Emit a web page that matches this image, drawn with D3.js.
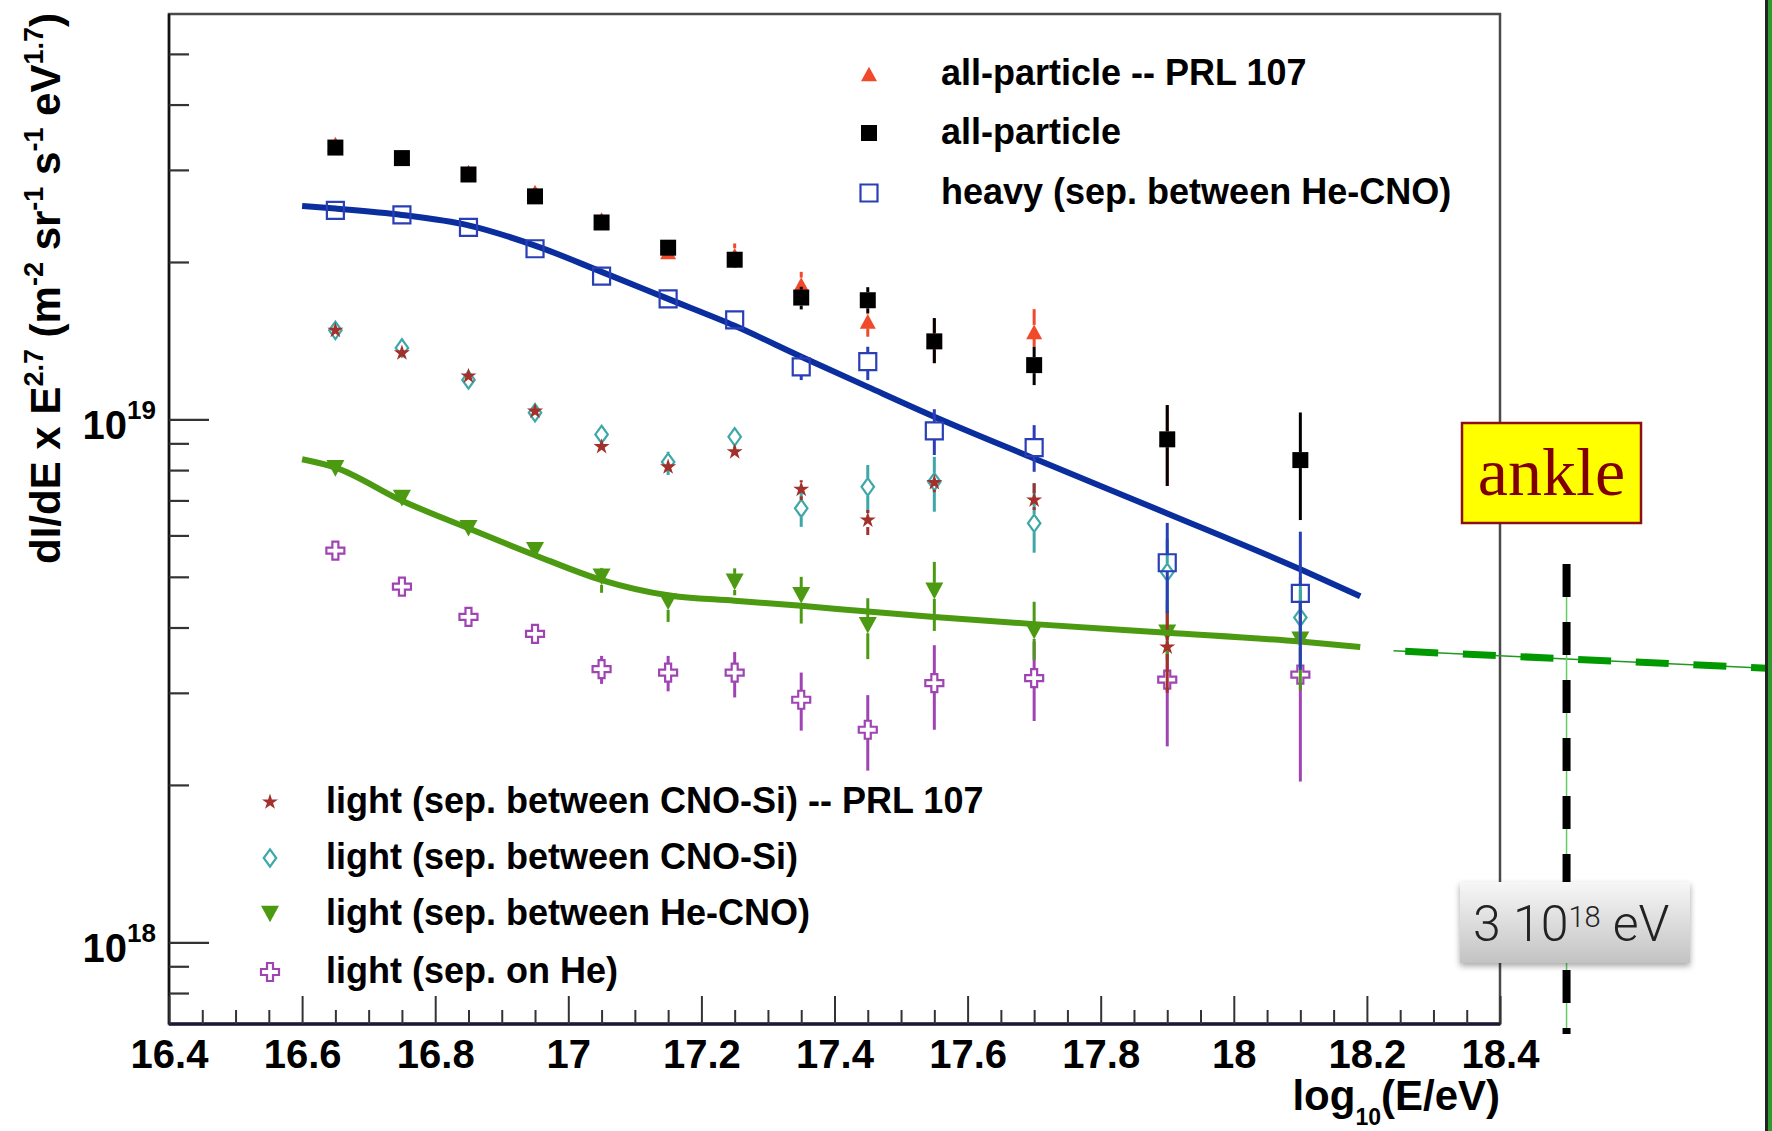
<!DOCTYPE html>
<html><head><meta charset="utf-8">
<script src="https://cdn.jsdelivr.net/npm/d3@7"></script>
<style>
html,body{margin:0;padding:0;background:#fff;}
svg{display:block;}
</style></head><body>
<svg id="chart" width="1772" height="1131"></svg>
<script>
// ---------------- DATA ----------------
const energies = [16.65, 16.75, 16.85, 16.95, 17.05, 17.15, 17.25, 17.35, 17.45, 17.55, 17.7, 17.9, 18.1];

const allPRL   = [3.36e19, 3.17e19, 2.97e19, 2.72e19, 2.41e19, 2.09e19, 2.06e19, 1.81e19, 1.54e19, 1.42e19, 1.47e19, 9.2e18, null];
const allPRLLo = [3.31e19, 3.12e19, 2.93e19, 2.68e19, 2.37e19, 2.05e19, 1.95e19, 1.691e19, 1.439e19, 1.281e19, 1.377e19, 7.46e18, null];
const allPRLHi = [3.41e19, 3.22e19, 3.01e19, 2.76e19, 2.45e19, 2.13e19, 2.17e19, 1.915e19, 1.597e19, 1.562e19, 1.625e19, 1.065e19, null];

const allPart   = [3.31e19, 3.16e19, 2.94e19, 2.67e19, 2.38e19, 2.13e19, 2.02e19, 1.71e19, 1.69e19, 1.41e19, 1.27e19, 9.16e18, 8.36e18];
const allPartLo = [3.27e19, 3.12e19, 2.90e19, 2.63e19, 2.34e19, 2.09e19, 1.97e19, 1.623e19, 1.597e19, 1.281e19, 1.163e19, 7.46e18, 6.42e18];
const allPartHi = [3.35e19, 3.20e19, 2.98e19, 2.71e19, 2.42e19, 2.17e19, 2.07e19, 1.793e19, 1.79e19, 1.562e19, 1.377e19, 1.065e19, 1.031e19];

const heavy   = [2.51e19, 2.46e19, 2.33e19, 2.12e19, 1.88e19, 1.70e19, 1.55e19, 1.26e19, 1.29e19, 9.51e18, 8.83e18, 5.32e18, 4.65e18];
const heavyLo = [2.48e19, 2.43e19, 2.30e19, 2.09e19, 1.85e19, 1.67e19, 1.52e19, 1.189e19, 1.189e19, 8.55e18, 7.94e18, 4.26e18, 3.32e18];
const heavyHi = [2.54e19, 2.49e19, 2.36e19, 2.15e19, 1.91e19, 1.73e19, 1.58e19, 1.327e19, 1.377e19, 1.046e19, 9.75e18, 6.34e18, 6.10e18];

const lightCNOSiPRL   = [1.48e19, 1.34e19, 1.21e19, 1.037e19, 8.87e18, 8.11e18, 8.67e18, 7.35e18, 6.42e18, 7.57e18, 7.01e18, 3.67e18, null];
const lightCNOSiPRLLo = [1.46e19, 1.32e19, 1.19e19, 1.02e19, 8.7e18, 7.95e18, 8.45e18, 7.01e18, 6.01e18, 7.26e18, 6.71e18, 3.0e18, null];
const lightCNOSiPRLHi = [1.50e19, 1.36e19, 1.23e19, 1.05e19, 9.05e18, 8.3e18, 8.9e18, 7.65e18, 6.71e18, 7.82e18, 7.55e18, 4.3e18, null];

const lightCNOSi   = [1.48e19, 1.37e19, 1.19e19, 1.03e19, 9.36e18, 8.29e18, 9.26e18, 6.76e18, 7.43e18, 7.6e18, 6.33e18, 5.1e18, 4.18e18];
const lightCNOSiLo = [1.46e19, 1.35e19, 1.17e19, 1.01e19, 9.1e18, 7.83e18, 8.62e18, 6.23e18, 6.62e18, 6.66e18, 5.56e18, 4.3e18, 3.4e18];
const lightCNOSiHi = [1.50e19, 1.39e19, 1.21e19, 1.05e19, 9.6e18, 8.67e18, 9.62e18, 7.32e18, 8.18e18, 8.48e18, 7.55e18, 5.9e18, 5.0e18];

const lightHeCNO   = [8.06e18, 7.07e18, 6.19e18, 5.62e18, 5.0e18, 4.48e18, 4.89e18, 4.61e18, 4.04e18, 4.70e18, 3.94e18, 3.91e18, 3.79e18];
const lightHeCNOLo = [7.95e18, 6.97e18, 6.10e18, 5.53e18, 4.66e18, 4.10e18, 4.61e18, 4.07e18, 3.48e18, 3.94e18, 3.47e18, 3.47e18, 3.04e18];
const lightHeCNOHi = [8.17e18, 7.17e18, 6.28e18, 5.71e18, 5.20e18, 4.66e18, 5.19e18, 5.0e18, 4.55e18, 5.34e18, 4.48e18, 4.5e18, 4.72e18];

const lightHe   = [5.61e18, 4.79e18, 4.19e18, 3.89e18, 3.33e18, 3.28e18, 3.28e18, 2.91e18, 2.55e18, 3.13e18, 3.20e18, 3.18e18, 3.25e18];
const lightHeLo = [5.53e18, 4.72e18, 4.12e18, 3.80e18, 3.12e18, 3.02e18, 2.94e18, 2.54e18, 2.13e18, 2.55e18, 2.65e18, 2.37e18, 2.03e18];
const lightHeHi = [5.69e18, 4.86e18, 4.26e18, 3.98e18, 3.53e18, 3.53e18, 3.59e18, 3.28e18, 2.97e18, 3.70e18, 3.76e18, 4.01e18, 4.51e18];

// fitted curves
const heavyFitE = [16.6, 16.65, 16.75, 16.85, 16.95, 17.05, 17.15, 17.25, 17.35, 17.45, 17.55, 17.7, 17.9, 18.1, 18.19];
const heavyFitV = [2.56e19, 2.53e19, 2.46e19, 2.35e19, 2.15e19, 1.915e19, 1.70e19, 1.51e19, 1.318e19, 1.154e19, 1.012e19, 8.42e18, 6.61e18, 5.17e18, 4.59e18];
const lightFitE = [16.6, 16.65, 16.75, 16.85, 16.95, 17.05, 17.15, 17.25, 17.35, 17.45, 17.55, 17.7, 17.9, 18.1, 18.19];
const lightFitV = [8.39e18, 8.09e18, 6.99e18, 6.19e18, 5.50e18, 4.93e18, 4.61e18, 4.50e18, 4.40e18, 4.29e18, 4.19e18, 4.06e18, 3.91e18, 3.76e18, 3.67e18];

// annotation overlay: extrapolated light line and ankle marker
const extE = [18.24, 18.81];
const extV = [3.61e18, 3.34e18];
const ankleE = 18.5;
const ankleV = [5.29e18, 6.68e17];

// axes
const xDomain = [16.4, 18.4];
const yDomain = [6.98e17, 5.96e19];
const xTicks = [16.4, 16.6, 16.8, 17, 17.2, 17.4, 17.6, 17.8, 18, 18.2, 18.4];
const xTickLabels = ["16.4", "16.6", "16.8", "17", "17.2", "17.4", "17.6", "17.8", "18", "18.2", "18.4"];
const yMajorTicks = [1e18, 1e19];
const yMajorExp = ["18", "19"];
const yMinorTicks = [8e17, 9e17, 2e18, 3e18, 4e18, 5e18, 6e18, 7e18, 8e18, 9e18, 2e19, 3e19, 4e19, 5e19];

const legendTop = ["all-particle -- PRL 107", "all-particle", "heavy (sep. between He-CNO)"];
const legendBottom = ["light (sep. between CNO-Si) -- PRL 107", "light (sep. between CNO-Si)", "light (sep. between He-CNO)", "light (sep. on He)"];

// ---------------- LAYOUT ----------------
const svg = d3.select("#chart");
const F = {left: 169, right: 1500, top: 14, bottom: 1024};
const x = d3.scaleLinear().domain(xDomain).range([F.left, F.right]);
const y = d3.scaleLog().domain(yDomain).range([F.bottom, F.top]);
const FONT = "'Liberation Sans', Arial, Helvetica, sans-serif";

// custom ROOT-like marker shapes
const symDiamond = {draw(c, s){ const h = Math.sqrt(s)/2, w = h*0.72; c.moveTo(0,-h); c.lineTo(w,0); c.lineTo(0,h); c.lineTo(-w,0); c.closePath(); }};
const symCross = {draw(c, s){ const h = Math.sqrt(s)/2, a = h/3;
  c.moveTo(-a,-h); c.lineTo(a,-h); c.lineTo(a,-a); c.lineTo(h,-a); c.lineTo(h,a); c.lineTo(a,a);
  c.lineTo(a,h); c.lineTo(-a,h); c.lineTo(-a,a); c.lineTo(-h,a); c.lineTo(-h,-a); c.lineTo(-a,-a); c.closePath(); }};
const symTriUp = {draw(c, s){ const h = Math.sqrt(s)/2; c.moveTo(0,-0.92*h); c.lineTo(h,0.92*h); c.lineTo(-h,0.92*h); c.closePath(); }};
const symTriDown = {draw(c, s){ const h = Math.sqrt(s)/2; c.moveTo(0,0.92*h); c.lineTo(h,-0.92*h); c.lineTo(-h,-0.92*h); c.closePath(); }};

const C = {red:"#f04a2a", black:"#000000", blue:"#2a3fb5", blueFit:"#0b2e9e", star:"#a3302a", teal:"#3ea7a8", green:"#4c9a12", purple:"#a044b4"};

const series = {
  allPRL:   {v: allPRL, lo: allPRLLo, hi: allPRLHi, type: symTriUp, size: 256, fill: C.red, stroke: "none", err: C.red, gap: 7},
  allPart:  {v: allPart, lo: allPartLo, hi: allPartHi, type: d3.symbolSquare, size: 256, fill: C.black, stroke: "none", err: C.black, gap: 8},
  heavy:    {v: heavy, lo: heavyLo, hi: heavyHi, type: d3.symbolSquare, size: 289, fill: "none", stroke: C.blue, err: C.blue, gap: 9},
  cnoPRL:   {v: lightCNOSiPRL, lo: lightCNOSiPRLLo, hi: lightCNOSiPRLHi, type: d3.symbolStar, size: 80, fill: C.star, stroke: "none", err: C.star, gap: 7},
  cno:      {v: lightCNOSi, lo: lightCNOSiLo, hi: lightCNOSiHi, type: symDiamond, size: 300, fill: "none", stroke: C.teal, err: C.teal, gap: 9},
  heCNO:    {v: lightHeCNO, lo: lightHeCNOLo, hi: lightHeCNOHi, type: symTriDown, size: 324, fill: C.green, stroke: "none", err: C.green, gap: 8},
  he:       {v: lightHe, lo: lightHeLo, hi: lightHeHi, type: symCross, size: 324, fill: "none", stroke: C.purple, err: C.purple, gap: 9}
};

// frame
svg.append("rect").attr("x", F.left).attr("y", F.top).attr("width", F.right-F.left).attr("height", F.bottom-F.top)
  .attr("fill", "none").attr("stroke", "#4a4a4a").attr("stroke-width", 2.5);
svg.append("line").attr("x1", F.left).attr("x2", F.left).attr("y1", F.top).attr("y2", F.bottom).attr("stroke", "#111").attr("stroke-width", 2.5);
svg.append("line").attr("x1", F.left).attr("x2", F.right).attr("y1", F.bottom).attr("y2", F.bottom).attr("stroke", "#1a1a36").attr("stroke-width", 3.5);

// y axis ticks
const gyMinor = svg.append("g").attr("transform", `translate(${F.left},0)`)
  .call(d3.axisLeft(y).tickValues(yMinorTicks).tickSize(-20).tickFormat(() => ""));
const gyMajor = svg.append("g").attr("transform", `translate(${F.left},0)`)
  .call(d3.axisLeft(y).tickValues(yMajorTicks).tickSize(-40).tickFormat(() => ""));
[gyMinor, gyMajor].forEach(g => { g.select(".domain").remove(); g.selectAll("line").attr("stroke", "#333").attr("stroke-width", 2.2); g.selectAll("text").remove(); });
yMajorTicks.forEach((v, i) => {
  const t = svg.append("text").attr("x", 156).attr("y", y(v) + 20).attr("text-anchor", "end")
    .attr("font-family", FONT).attr("font-weight", "bold").attr("font-size", 40).attr("fill", "#000");
  t.append("tspan").text("10");
  t.append("tspan").attr("font-size", 26).attr("dy", -20).text(yMajorExp[i]);
});

// x axis ticks
const xMinor = d3.range(1, 40).filter(i => i % 4 !== 0).map(i => xDomain[0] + i * 0.05);
const gxMinor = svg.append("g").attr("transform", `translate(0,${F.bottom})`)
  .call(d3.axisBottom(x).tickValues(xMinor).tickSize(-14).tickFormat(() => ""));
const gxMajor = svg.append("g").attr("transform", `translate(0,${F.bottom})`)
  .call(d3.axisBottom(x).tickValues(xTicks).tickSize(-28).tickFormat((d, i) => xTickLabels[i]));
[gxMinor, gxMajor].forEach(g => { g.select(".domain").remove(); g.selectAll("line").attr("stroke", "#333").attr("stroke-width", 2); });
gxMinor.selectAll("text").remove();
gxMajor.selectAll("text").attr("y", 44).attr("dy", 0).attr("font-family", FONT).attr("font-weight", "bold")
  .attr("font-size", 40).attr("fill", "#000");

// axis titles
const xt = svg.append("text").attr("x", F.right).attr("y", 1110).attr("text-anchor", "end")
  .attr("font-family", FONT).attr("font-weight", "bold").attr("font-size", 42).attr("fill", "#000");
xt.append("tspan").text("log");
xt.append("tspan").attr("font-size", 23).attr("dy", 15).text("10");
xt.append("tspan").attr("dy", -15).text("(E/eV)");

const yTitleParts = [["dI/dE x E", 0], ["2.7", 1], [" (m", 0], ["-2", 1], [" sr", 0], ["-1", 1], [" s", 0], ["-1", 1], [" eV", 0], ["1.7", 1], [")", 0]];
const yt = svg.append("text").attr("transform", `translate(60,${F.top - 1}) rotate(-90)`).attr("text-anchor", "end")
  .attr("font-family", FONT).attr("font-weight", "bold").attr("font-size", 42).attr("fill", "#000");
let prevSup = 0;
yTitleParts.forEach(([txt, sup]) => {
  const ts = yt.append("tspan").text(txt);
  if (sup && !prevSup) ts.attr("dy", -17);
  if (!sup && prevSup) ts.attr("dy", 17);
  if (sup) ts.attr("font-size", 27);
  prevSup = sup;
});

// fits
const line = d3.line().x(d => x(d[0])).y(d => y(d[1])).curve(d3.curveMonotoneX);

function drawSeries(s) {
  const g = svg.append("g");
  const sym = d3.symbol().type(s.type).size(s.size);
  energies.forEach((e, i) => {
    const v = s.v[i];
    if (v == null) return;
    const cx = x(e), cy = y(v);
    const yHi = y(s.hi[i]), yLo = y(s.lo[i]);
    if (yHi < cy - s.gap) g.append("line").attr("x1", cx).attr("x2", cx).attr("y1", yHi).attr("y2", cy - s.gap)
      .attr("stroke", s.err).attr("stroke-width", 3);
    if (yLo > cy + s.gap) g.append("line").attr("x1", cx).attr("x2", cx).attr("y1", cy + s.gap).attr("y2", yLo)
      .attr("stroke", s.err).attr("stroke-width", 3);
    g.append("path").attr("d", sym()).attr("transform", `translate(${cx},${cy})`)
      .attr("fill", s.fill).attr("stroke", s.stroke).attr("stroke-width", s.stroke === "none" ? 0 : 2.2);
  });
}

drawSeries(series.he);
drawSeries(series.heCNO);
drawSeries(series.cno);
drawSeries(series.cnoPRL);
svg.append("path").datum(d3.zip(lightFitE, lightFitV)).attr("d", line)
  .attr("fill", "none").attr("stroke", C.green).attr("stroke-width", 6).attr("stroke-linecap", "butt");
svg.append("path").datum(d3.zip(heavyFitE, heavyFitV)).attr("d", line)
  .attr("fill", "none").attr("stroke", C.blueFit).attr("stroke-width", 6).attr("stroke-linecap", "butt");
drawSeries(series.allPRL);
drawSeries(series.allPart);
drawSeries(series.heavy);

// legends
function legendItem(s, mx, my, label, tx) {
  svg.append("path").attr("d", d3.symbol().type(s.type).size(s.size)()).attr("transform", `translate(${mx},${my})`)
    .attr("fill", s.fill).attr("stroke", s.stroke).attr("stroke-width", s.stroke === "none" ? 0 : 2.2);
  svg.append("text").attr("x", tx).attr("y", my + 11).attr("font-family", FONT).attr("font-weight", "bold")
    .attr("font-size", 36).attr("fill", "#000").text(label);
}
const topSeries = [series.allPRL, series.allPart, series.heavy];
const topRows = [74, 133, 193];
topSeries.forEach((s, i) => legendItem(s, 869, topRows[i], legendTop[i], 941));
const botSeries = [series.cnoPRL, series.cno, series.heCNO, series.he];
const botRows = [802, 858, 914, 972];
botSeries.forEach((s, i) => legendItem(s, 270, botRows[i], legendBottom[i], 326));

// ---------------- annotations ----------------
const defs = svg.append("defs");
const grad = defs.append("linearGradient").attr("id", "boxgrad").attr("x1", 0).attr("y1", 0).attr("x2", 0).attr("y2", 1);
grad.append("stop").attr("offset", "0%").attr("stop-color", "#f7f7f7");
grad.append("stop").attr("offset", "100%").attr("stop-color", "#c3c3c3");
const flt = defs.append("filter").attr("id", "shadow").attr("x", "-20%").attr("y", "-20%").attr("width", "140%").attr("height", "150%");
flt.append("feDropShadow").attr("dx", 0).attr("dy", 3).attr("stdDeviation", 3).attr("flood-color", "#000").attr("flood-opacity", 0.35);

// extrapolated green dashed line
const extPts = d3.zip(extE, extV);
svg.append("path").datum(extPts).attr("d", d3.line().x(d => x(d[0])).y(d => y(d[1])))
  .attr("stroke", "#1f9a1f").attr("stroke-width", 1.5).attr("fill", "none");
svg.append("path").datum(extPts).attr("d", d3.line().x(d => x(d[0])).y(d => y(d[1])))
  .attr("stroke", "#009a00").attr("stroke-width", 7).attr("fill", "none")
  .attr("stroke-dasharray", "33 24.7").attr("stroke-dashoffset", 46);

// vertical ankle marker line
svg.append("line").attr("x1", x(ankleE)).attr("x2", x(ankleE)).attr("y1", y(ankleV[0])).attr("y2", y(ankleV[1]))
  .attr("stroke", "#66cc66").attr("stroke-width", 1.5);
svg.append("line").attr("x1", x(ankleE)).attr("x2", x(ankleE)).attr("y1", y(ankleV[0])).attr("y2", y(ankleV[1]))
  .attr("stroke", "#000").attr("stroke-width", 8).attr("stroke-dasharray", "33 25");

// ankle label
svg.append("rect").attr("x", 1462).attr("y", 423).attr("width", 179).attr("height", 100)
  .attr("fill", "#ffff00").attr("stroke", "#8b1010").attr("stroke-width", 2.5);
svg.append("text").attr("x", 1551.5).attr("y", 495).attr("text-anchor", "middle")
  .attr("font-family", "'Liberation Serif', 'Times New Roman', serif").attr("font-size", 68).attr("fill", "#800000").text("ankle");

// energy label
svg.append("rect").attr("x", 1460).attr("y", 882).attr("width", 230).attr("height", 81)
  .attr("fill", "url(#boxgrad)").attr("filter", "url(#shadow)");
const et = svg.append("text").attr("x", 1473).attr("y", 941)
  .attr("font-family", "Roboto, 'Open Sans', 'Liberation Sans', sans-serif").attr("font-weight", 300)
  .attr("font-size", 50).attr("fill", "#222");
et.append("tspan").text("3 10");
et.append("tspan").attr("font-size", 29).attr("dy", -14).text("18");
et.append("tspan").attr("dy", 14).text(" eV");

// right page edge strip
svg.append("rect").attr("x", 1765).attr("y", 0).attr("width", 3).attr("height", 1131).attr("fill", "#222");
svg.append("rect").attr("x", 1768).attr("y", 0).attr("width", 4).attr("height", 1131).attr("fill", "#2e9a2e");
</script>
</body></html>
